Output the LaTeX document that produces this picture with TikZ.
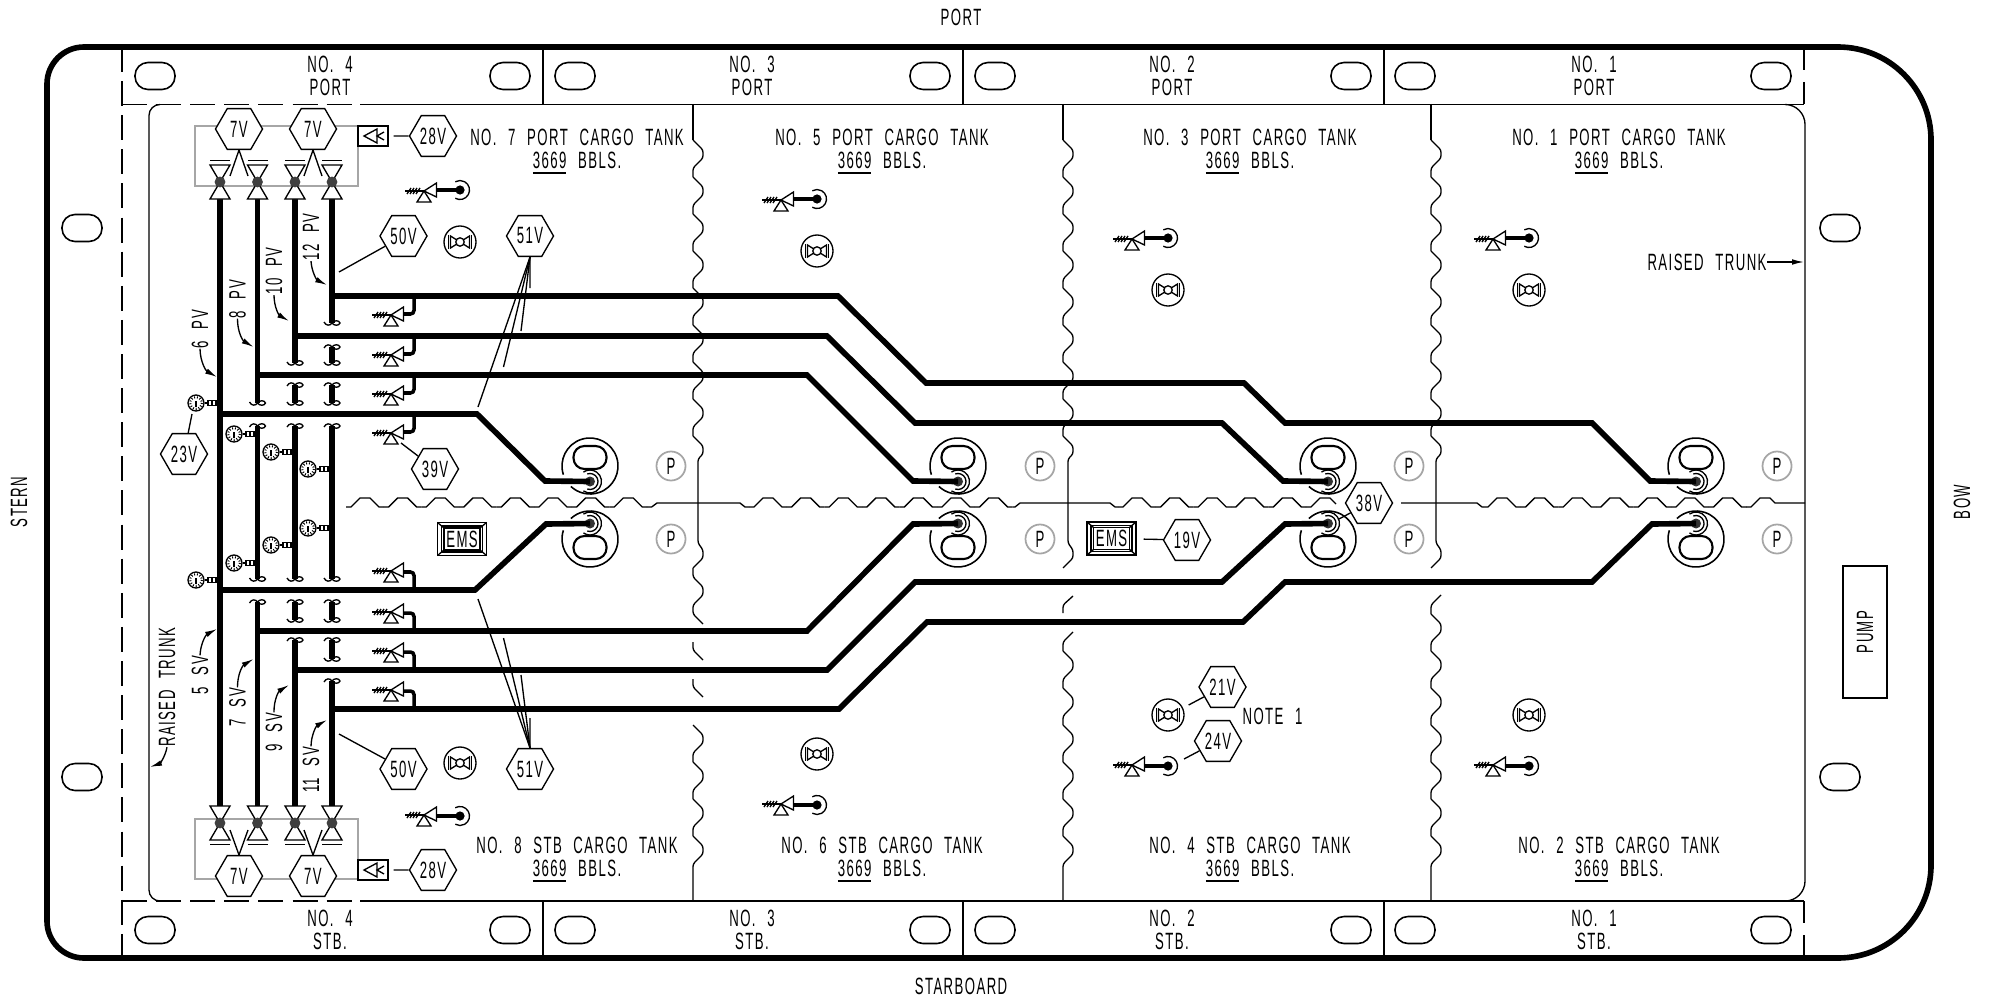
\documentclass[tikz,border=0pt]{standalone}
\usepackage{fontspec}
\setmainfont[FakeStretch=0.56,LetterSpace=6,WordSpace=2.3]{Liberation Sans}
\usetikzlibrary{arrows.meta}
\usetikzlibrary{shapes.geometric}

\begin{document}
\begin{tikzpicture}[x=0.01cm,y=-0.01cm,
	every node/.style={font=\fontsize{6.7}{6.5}\selectfont,inner sep=0pt},
	thinline/.style={line width=0.38pt},
	hull/.style={line width=1.6pt},
	pipe/.style={line width=1.6pt},
	stem/.style={line width=1pt},
	callout/.style={thinline,-{Latex[length=3.4pt,width=1.6pt]}},
	dashline/.style={thinline,dash pattern=on 7.1pt off 2.6pt},
	hextag/.style={regular polygon,regular polygon sides=6,minimum size=0.47cm,draw,thinline,fill=white},
	pumpring/.style={circle,draw=black!35,line width=0.5pt,minimum size=0.29cm},
	iconbox/.style={draw,thinline,minimum width=0.30cm,minimum height=0.20cm},
	emsbox/.style={draw,thinline,minimum width=0.49cm,minimum height=0.33cm},
	slot/.pic={
		\draw[line width=0.45pt,rounded corners=3.7pt] (-20,-13.5) rectangle (20,13.5);
	},
	valve/.pic={
		\draw[thinline,fill=white] (-10,-17) -- (10,-17) -- (-10,17) -- (10,17) -- cycle;
		\draw[thinline] (-10,-21.5) -- (10,-21.5);
		\fill[black!75] (0,0) circle (5.4);
	},
	vent/.pic={
		\draw[thinline] (-19,0) -- (0,0);
		\foreach \a in {-15,-12,-9,-6} {
			\draw[thinline] (\a-2,3) -- (\a+2,-3);
		}
		\draw[thinline,fill=white] (0,0) -- (12.5,-8) -- (12.5,6) -- cycle;
		\draw[thinline,fill=white] (0,0) -- (-7,11) -- (7,11) -- cycle;
	},
	ventdot/.pic={
		\pic {vent};
		\draw[stem] (12.5,-1) -- (36,-1);
		\fill (36,-1) circle (4.6);
		\draw[thinline] (36,-1) ++(120:9.5) arc[start angle=120,end angle=-120,radius=9.5];
	},
	ventstem/.pic={
		\pic {vent};
		\draw[stem,rounded corners=1pt] (12.5,-1) -- (23,-1) -- (23,-19);
	},
	gauge/.pic={
		\draw[thinline,fill=white] (0,0) circle (8);
		\draw[line width=0.6pt,dash pattern=on 0.25pt off 0.55pt] (0,0) circle (5.8);
		\draw[thinline] (0,4) -- (0,-2);
		\draw[thinline] (9,0) -- (12,0) (12,-2.5) rectangle (16,2.5) (16,-2.5) rectangle (20,2.5) (20,0) -- (24,0);
	},
	sounding/.pic={
		\draw[thinline] (0,0) circle (16);
		\draw[thinline] (-9.5,-6) -- (-9.5,6) -- (9.5,-6) -- (9.5,6) -- cycle;
		\draw[thinline] (-11.5,-7) -- (-11.5,7) (11.5,-7) -- (11.5,7);
		\draw[thinline,fill=white] (0,0) circle (4.2);
	},
	pumpwell/.pic={
		\draw[line width=0.45pt] (162:28) arc[start angle=162,end angle=493,radius=28];
		\draw[line width=0.6pt,rounded corners=3.1pt] (-16.5,-20) rectangle (16.5,3);
		\coordinate (-dot) at (0,15.5);
		\draw[thinline] (0,15.5) ++(125:11.5) arc[start angle=125,end angle=-125,radius=11.5];
		\draw[thinline] (0,15.5) ++(110:8) arc[start angle=110,end angle=-110,radius=8];
		\fill[black!80] (0,15.5) circle (5);
	},
	horn/.pic={
		\draw[thinline] (-9,0) -- (4,-7) -- (4,7) -- cycle;
		\draw[thinline] (11,-4) -- (4,0) -- (11,4);
	},
	emsframe/.pic={
		\draw[thinline] (-18,-11) rectangle (18,11);
		\draw[thinline] (-24.5,-16.5) -- (-18,-11) (24.5,-16.5) -- (18,-11) (-24.5,16.5) -- (-18,11) (24.5,16.5) -- (18,11);
		\draw[thinline] (-20.5,-13) rectangle (20.5,13);
	},
	brk/.pic={
		\draw[thinline] (-8,-1) .. controls (-6,3) and (-2,3) .. (0,0) .. controls (2,-3) and (7,-3) .. (8,0) .. controls (7,3) and (2,3) .. (0,0);
	},
	scallop/.pic={
		\foreach \i [evaluate=\i as \d using (\i-1)*37] in {1,...,#1} {
			\draw[thinline,rounded corners=0.7pt,shift={(0,\d)}] (0,0) -- (10,10) -- (10,18) -- (0,28) -- (0,37);
		}
	},
	bulkhead/.pic={
		\draw[thinline] (0,104) -- (0,140);
		\pic at (0,140) {scallop=8};
		\draw[thinline,rounded corners=0.7pt] (0,436) -- (10,446) -- (10,454) -- (5,459) -- (5,543) -- (10,550) -- (10,558) -- (0,568);
		\draw[thinline,rounded corners=0.7pt] (0,836) -- (10,846) -- (10,854) -- (0,864) -- (0,901);
	},
	wavy/.pic={
		\foreach \i [evaluate=\i as \d using (\i-1)*37.6] in {1,...,#1} {
			\draw[thinline,shift={(\d,0)}] (-18.8,4.5) -- (-14,4.5) -- (-5,-4.5) -- (5,-4.5) -- (14,4.5) -- (18.8,4.5);
		}
	}]
	
	\useasboundingbox (0,0) rectangle (1998,997);
	
	\draw[hull] (84,47) -- (1838,47) arc[start angle=-90,end angle=0,radius=93] -- (1931,865) arc[start angle=0,end angle=90,radius=93] -- (84,958) arc[start angle=90,end angle=180,radius=37] -- (47,84) arc[start angle=180,end angle=270,radius=37] -- cycle;
	
	\draw[dashline] (122,47) -- (122,958);
	\draw[dashline] (122,104.5) -- (360,104.5);
	\draw[dashline] (122,901) -- (360,901);
	\draw[thinline] (360,104.5) -- (1804,104.5) (360,901) -- (1804,901);
	\draw[thinline] (1804,47) -- (1804,70) (1804,82) -- (1804,104.5);
	\draw[thinline] (1804,901) -- (1804,923) (1804,935) -- (1804,958);
	\foreach \x in {543,963,1384} {
		\draw[thinline] (\x,47) -- (\x,104.5) (\x,901) -- (\x,958);
	}
	\draw[thinline] (160,104.5) arc[start angle=270,end angle=180,radius=11] -- (149,890) arc[start angle=180,end angle=90,radius=11];
	\draw[thinline] (1785,104.5) arc[start angle=-90,end angle=0,radius=20] -- (1805,881) arc[start angle=0,end angle=90,radius=20];
	
	\foreach \x in {155,510,575,930,995,1351,1415,1771} {
		\pic at (\x,76) {slot};
		\pic at (\x,930) {slot};
	}
	\foreach \y in {228,777} {
		\pic at (82,\y) {slot};
		\pic at (1840,\y) {slot};
	}
	
	\pic at (693,0) {bulkhead};
	\pic at (1063,0) {bulkhead};
	\pic at (1431,0) {bulkhead};
	\draw[thinline,rounded corners=0.7pt] (693,568) -- (693,577) -- (703,587) -- (703,595) -- (693,605) -- (693,614) -- (703,624);
	\draw[thinline,rounded corners=0.7pt] (693,642) -- (693,650) -- (703,660);
	\draw[thinline,rounded corners=0.7pt] (693,679) -- (693,687) -- (703,697);
	\pic at (693,725) {scallop=3};
	\draw[thinline,rounded corners=0.7pt] (1073,596) -- (1063,605) -- (1063,613);
	\draw[thinline,rounded corners=0.7pt] (1073,632) -- (1063,642) -- (1063,651);
	\pic at (1063,651) {scallop=5};
	\draw[thinline,rounded corners=0.7pt] (1441,595) -- (1431,605) -- (1431,614);
	\pic at (1431,614) {scallop=6};
	
	\pic at (365,502.5) {wavy=8};
	\draw[thinline] (646.8,507) -- (651.6,507) -- (657,503) -- (740,503) -- (745,507) -- (749.2,507);
	\pic at (768,502.5) {wavy=7};
	\draw[thinline] (1012.4,507) -- (1015,507) -- (1020,503) -- (1110,503) -- (1115,507) -- (1118.2,507);
	\pic at (1137,502.5) {wavy=5};
	\draw[thinline] (1305.8,507) -- (1311,507) -- (1320,498) -- (1330,498) -- (1336,504);
	\draw[thinline] (1401,503) -- (1477,503) -- (1482,507) -- (1483.2,507);
	\pic at (1502,502.5) {wavy=7};
	\draw[thinline] (1746,507) -- (1751,507) -- (1760,498) -- (1770,498) -- (1775,503) -- (1805,503);
	
	\draw[black!35,line width=0.5pt] (195,126) rectangle (358,186);
	\draw[black!35,line width=0.5pt] (195,819) rectangle (358,879);
	
	\foreach \x/\y in {424/191,781/200,1132/239,1493/239} {
		\pic at (\x,\y) {ventdot};
	}
	\foreach \x/\y in {424/815,781/804,1132/765,1493/765} {
		\pic[yscale=-1] at (\x,\y) {ventdot};
	}
	\foreach \x/\y in {460/242,817/251,1168/290,1529/290,460/763,817/754,1168/715,1529/715} {
		\pic at (\x,\y) {sounding};
	}
	\foreach \y in {315,355,394,433} {
		\pic at (391,\y) {ventstem};
	}
	\foreach \y in {571,612,651,690} {
		\pic[yscale=-1] at (391,\y) {ventstem};
	}
	\foreach \x/\y in {196/403,234/434,271/452,308/469,196/580,234/563,271/545,308/528} {
		\pic at (\x,\y) {gauge};
	}
	
	\pic (wellA) at (590,466) {pumpwell};
	\pic (wellB) at (958,466) {pumpwell};
	\pic (wellC) at (1328,466) {pumpwell};
	\pic (wellD) at (1696,466) {pumpwell};
	\pic[yscale=-1] (wellE) at (590,539) {pumpwell};
	\pic[yscale=-1] (wellF) at (958,539) {pumpwell};
	\pic[yscale=-1] (wellG) at (1328,539) {pumpwell};
	\pic[yscale=-1] (wellH) at (1696,539) {pumpwell};
	
	\draw[pipe] (332,296) -- (838,296) -- (926,383) -- (1244,383) -- (1285,423) -- (1592,423) -- (1650,481) -- (wellD-dot);
	\draw[pipe] (295,336) -- (827,336) -- (915,423) -- (1222,423) -- (1283,481) -- (wellC-dot);
	\draw[pipe] (257.5,375) -- (807,375) -- (913,481) -- (wellB-dot);
	\draw[pipe] (220,414) -- (477,414) -- (545,481) -- (wellA-dot);
	\draw[pipe] (220,590) -- (475,590) -- (546,524) -- (wellE-dot);
	\draw[pipe] (257.5,631) -- (807,631) -- (913,524) -- (wellF-dot);
	\draw[pipe] (295,670) -- (827,670) -- (915,582) -- (1222,582) -- (1285,524) -- (wellG-dot);
	\draw[pipe] (332,709) -- (839,709) -- (927,622) -- (1243,622) -- (1285,582) -- (1592,582) -- (1652,524) -- (wellH-dot);
	
	\draw[pipe] (220,199) -- (220,807);
	\foreach \x/\y in {257.5/403,295/363,332/323} {
		\draw[pipe] (\x,199) -- (\x,\y);
		\pic at (\x,\y) {brk};
	}
	\foreach \x/\y in {257.5/602,295/640,332/681} {
		\draw[pipe] (\x,\y) -- (\x,807);
		\pic[yscale=-1] at (\x,\y) {brk};
	}
	\foreach \x/\a/\b in {257.5/426/579,295/426/579,332/426/579,295/385/403,332/385/403,332/347/363,295/602/620,332/602/620,332/640/659} {
		\draw[pipe] (\x,\a) -- (\x,\b);
		\pic[yscale=-1] at (\x,\a) {brk};
		\pic at (\x,\b) {brk};
	}
	\foreach \x in {220,257.5,295,332} {
		\pic at (\x,182) {valve};
		\pic[yscale=-1] at (\x,823) {valve};
	}
	
	\node[hextag] (tag7a) at (239,129) {7V};
	\node[hextag] (tag7b) at (313,129) {7V};
	\node[hextag] (tag7c) at (239,876) {7V};
	\node[hextag] (tag7d) at (313,876) {7V};
	\node[hextag] (tag28a) at (433,136) {28V};
	\node[hextag] (tag28b) at (433,870) {28V};
	\node[hextag] (tag50a) at (403.5,236) {50V};
	\node[hextag] (tag50b) at (403.5,769) {50V};
	\node[hextag] (tag51a) at (530,236) {51V};
	\node[hextag] (tag51b) at (530,769) {51V};
	\node[hextag] (tag23) at (184,454) {23V};
	\node[hextag] (tag39) at (435,469) {39V};
	\node[hextag] (tag38) at (1369,503) {38V};
	\node[hextag] (tag19) at (1187,540) {19V};
	\node[hextag] (tag21) at (1222.5,687) {21V};
	\node[hextag] (tag24) at (1218,741) {24V};
	
	\node[iconbox] (hornA) at (373,136) {};
	\node[iconbox] (hornB) at (373,870) {};
	\pic at (hornA) {horn};
	\pic at (hornB) {horn};
	\node[emsbox] (emsA) at (462,539) {EMS};
	\node[emsbox] (emsB) at (1111.5,538.5) {EMS};
	\pic at (emsA) {emsframe};
	\pic at (emsB) {emsframe};
	
	\coordinate (v7a) at (230,176);
	\coordinate (v7b) at (248,176);
	\coordinate (v7c) at (304,176);
	\coordinate (v7d) at (322,176);
	\coordinate (v7e) at (230,830);
	\coordinate (v7f) at (248,830);
	\coordinate (v7g) at (304,830);
	\coordinate (v7h) at (322,830);
	\coordinate (end50a) at (339,272);
	\coordinate (end50b) at (339,734);
	\coordinate (end23) at (192,414);
	\coordinate (end39) at (401,443);
	\coordinate (end38) at (1339,519);
	\coordinate (end21) at (1188.6,705);
	\coordinate (end24) at (1184,759);
	\draw[thinline] (tag7a.south) -- (v7a) (tag7a.south) -- (v7b);
	\draw[thinline] (tag7b.south) -- (v7c) (tag7b.south) -- (v7d);
	\draw[thinline] (tag7c.north) -- (v7e) (tag7c.north) -- (v7f);
	\draw[thinline] (tag7d.north) -- (v7g) (tag7d.north) -- (v7h);
	\draw[thinline,shorten <=1.4pt] (hornA) -- (tag28a);
	\draw[thinline,shorten <=1.4pt] (hornB) -- (tag28b);
	\draw[thinline] (tag50a) -- (end50a);
	\draw[thinline] (tag50b) -- (end50b);
	\draw[thinline] (tag23) -- (end23);
	\draw[thinline] (tag39) -- (end39);
	\draw[thinline] (tag38) -- (end38);
	\draw[thinline,shorten <=2pt] (emsB) -- (tag19);
	\draw[thinline] (tag21) -- (end21);
	\draw[thinline] (tag24) -- (end24);
	\foreach \n/\x/\y in {a/530/288,b/521/331,c/503.5/367,d/478/407} {
		\coordinate (fan\n) at (\x,\y);
		\draw[thinline] (tag51a.south) -- (fan\n);
	}
	\foreach \n/\x/\y in {e/530/718,f/521/675,g/503.5/638,h/478/599} {
		\coordinate (fan\n) at (\x,\y);
		\draw[thinline] (tag51b.north) -- (fan\n);
	}
	
	\node[rotate=90] (pv12) at (311,237) {12 PV};
	\node[rotate=90] (pv10) at (274,271) {10 PV};
	\node[rotate=90] (pv8) at (237.5,299) {8 PV};
	\node[rotate=90] (pv6) at (200,329) {6 PV};
	\node[rotate=90] (sv5) at (200,675) {5 SV};
	\node[rotate=90] (sv7) at (237.5,707) {7 SV};
	\node[rotate=90] (sv9) at (274,732) {9 SV};
	\node[rotate=90] (sv11) at (311,770) {11 SV};
	\coordinate (tip12) at (327,285);
	\coordinate (tip10) at (289,321);
	\coordinate (tip8) at (253.5,347);
	\coordinate (tip6) at (217,377);
	\coordinate (tip5) at (217,629);
	\coordinate (tip7) at (253.5,659);
	\coordinate (tip9) at (289,685);
	\coordinate (tip11) at (327,720);
	\draw[callout] (pv12.west) to[bend right=30] (tip12);
	\draw[callout] (pv10.west) to[bend right=30] (tip10);
	\draw[callout] (pv8.west) to[bend right=30] (tip8);
	\draw[callout] (pv6.west) to[bend right=30] (tip6);
	\draw[callout] (sv5.east) to[bend left=30] (tip5);
	\draw[callout] (sv7.east) to[bend left=30] (tip7);
	\draw[callout] (sv9.east) to[bend left=30] (tip9);
	\draw[callout] (sv11.east) to[bend left=30] (tip11);
	
	\node[rotate=90] (trunkA) at (167,687) {RAISED TRUNK};
	\coordinate (trunkTipA) at (150,767);
	\draw[callout] (trunkA.west) to[bend left=30] (trunkTipA);
	\node (trunkB) at (1707,262) {RAISED TRUNK};
	\coordinate (trunkTipB) at (1804,262);
	\draw[callout] (trunkB.east) -- (trunkTipB);
	
	\foreach \n/\x/\a in {A/330/4,B/752/3,C/1172/2,D/1594/1} {
		\node[align=center] (bandP\n) at (\x,76) {NO. \a\\PORT};
		\node[align=center] (bandS\n) at (\x,930) {NO. \a\\STB.};
	}
	\foreach \n/\x/\a in {A/577/7,B/882/5,C/1250/3,D/1619/1} {
		\node[align=center] (tankP\n) at (\x,152) {NO. \a{} PORT CARGO TANK\\\underline{3669} BBLS.};
	}
	\foreach \n/\x/\a in {A/577/8,B/882/6,C/1250/4,D/1619/2} {
		\node[align=center] (tankS\n) at (\x,860) {NO. \a{} STB CARGO TANK\\\underline{3669} BBLS.};
	}
	\foreach \n/\x in {A/671,B/1040,C/1409,D/1777} {
		\node[pumpring] (ringP\n) at (\x,466) {P};
		\node[pumpring] (ringS\n) at (\x,539) {P};
	}
	
	\node (note1) at (1272.5,716) {NOTE 1};
	\node[draw,thinline,minimum width=0.44cm,minimum height=1.32cm] (pumpbox) at (1865,632) {};
	\node[rotate=90] (pumplabel) at (pumpbox) {PUMP};
	\node (port) at (961,17) {PORT};
	\node (starboard) at (961,986) {STARBOARD};
	\node[rotate=90] (stern) at (19,502) {STERN};
	\node[rotate=90] (bow) at (1962,502) {BOW};
	
\end{tikzpicture}
\end{document}
